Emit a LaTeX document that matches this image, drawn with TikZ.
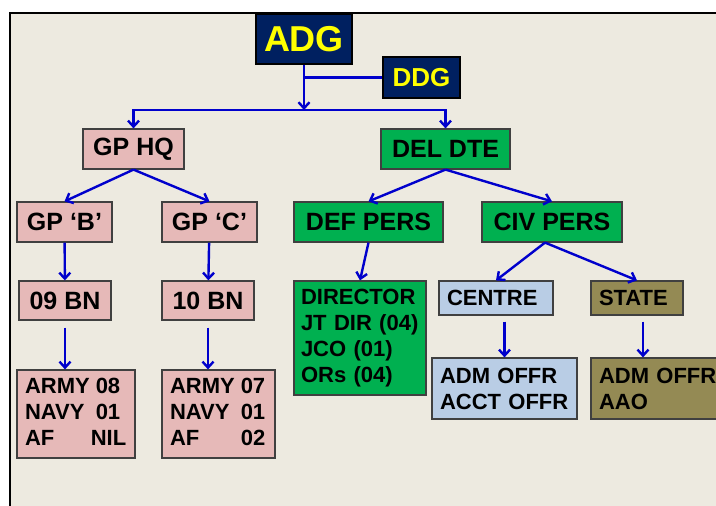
\documentclass[tikz,border=0pt]{standalone}
\usepackage{fontspec}
\setmainfont{Liberation Sans}
\usetikzlibrary{arrows.meta}
\definecolor{orgbg}{HTML}{EDEAE0}
\definecolor{orgnavy}{HTML}{002060}
\definecolor{orgyellow}{HTML}{FFFF00}
\definecolor{orgpink}{HTML}{E6B9B8}
\definecolor{orggreen}{HTML}{00B050}
\definecolor{orgblue}{HTML}{B9CDE5}
\definecolor{orgolive}{HTML}{948A54}
\definecolor{orgline}{HTML}{0000CC}
\definecolor{orgedge}{HTML}{404040}

\begin{document}
\begin{tikzpicture}[x=1pt,y=-1pt,>={Straight Barb[length=6pt,width=11pt]},
  orgbox/.style={draw=orgedge,line width=1.2pt,inner sep=0pt,font=\fontsize{25}{30}\selectfont\bfseries},
  headbox/.style={orgbox,fill=orgnavy,text=orgyellow,draw=black},
  pinkbox/.style={orgbox,fill=orgpink},
  greenbox/.style={orgbox,fill=orggreen},
  bluebox/.style={orgbox,fill=orgblue},
  olivebox/.style={orgbox,fill=orgolive},
  list/.style={inner xsep=8pt,inner ysep=0pt,align=left,font=\fontsize{22}{26}\selectfont\bfseries},
  arr/.style={->,draw=orgline,line width=2.4pt},
  link/.style={draw=orgline,line width=2.4pt}]
\useasboundingbox (0,0) rectangle (716,506);
\clip (0,0) rectangle (716,506);
\fill[white] (0,0) rectangle (716,506);
\draw[fill=orgbg,line width=2.5pt] (10,13) rectangle (760,560);

% top of the chart
\node[headbox,minimum width=96,minimum height=50,font=\fontsize{36}{40}\selectfont\bfseries] (adg) at (304,39) {ADG};
\node[headbox,minimum width=77,minimum height=41,font=\fontsize{26}{30}\selectfont\bfseries] (ddg) at (421.5,77.5) {DDG};
\coordinate (bus) at (304,110);
\draw[link] (ddg.west) -- (ddg.west -| adg.south);
\draw[arr] (adg) -- (bus);

\node[pinkbox,minimum width=101,minimum height=40] (gphq) at (133.5,149) {GP HQ};
\node[greenbox,minimum width=129,minimum height=40] (deldte) at (445.5,149) {DEL DTE};
\draw[arr] (bus) -| (gphq);
\draw[arr] (bus) -| (deldte);

% GP HQ side
\node[pinkbox,minimum width=95,minimum height=40] (gpb) at (64.5,222) {GP ‘B’};
\node[pinkbox,minimum width=95,minimum height=40] (gpc) at (209.5,222) {GP ‘C’};
\node[pinkbox,minimum width=92,minimum height=39] (bn09) at (65,300.5) {09 BN};
\node[pinkbox,minimum width=92,minimum height=39] (bn10) at (208,300.5) {10 BN};
\node[pinkbox,list,text width=102,minimum height=88] (army09) at (76,414)
  {\begin{tabular}{@{}l@{\hspace{6pt}}l@{}}ARMY&08\\NAVY&01\\AF&\hspace{-5pt}NIL\end{tabular}};
\node[pinkbox,list,text width=97,minimum height=88] (army10) at (218.5,414)
  {\begin{tabular}{@{}l@{\hspace{6pt}}l@{}}ARMY&07\\NAVY&01\\AF&02\end{tabular}};
\draw[arr] (gphq.south) -- (gpb.north);
\draw[arr] (gphq.south) -- (gpc.north);
\draw[arr] (gpb) -- (bn09);
\draw[arr] (gpc) -- (bn10);
\draw[arr,shorten <=7pt] (bn09.south) -- (bn09.south |- army09.north);
\draw[arr,shorten <=7pt] (bn10.south) -- (bn10.south |- army10.north);

% DEL DTE side
\node[greenbox,minimum width=149,minimum height=40] (defpers) at (368.5,222) {DEF PERS};
\node[greenbox,minimum width=140,minimum height=40] (civpers) at (552,222) {CIV PERS};
\node[greenbox,list,inner xsep=7pt,text width=118,minimum height=114] (director) at (360,338)
  {DIRECTOR\\JT DIR (04)\\JCO (01)\\ORs (04)};
\node[bluebox,list,text width=98,minimum height=34] (centre) at (496,298) {CENTRE};
\node[olivebox,list,text width=76,minimum height=34] (state) at (637,298) {STATE};
\node[bluebox,list,text width=129,minimum height=61] (centrestaff) at (504.5,388.5) {ADM OFFR\\ACCT OFFR};
\node[olivebox,list,text width=123,minimum height=61] (statestaff) at (660.5,388.5) {ADM OFFR\\AAO};
\draw[arr] (deldte.south) -- (defpers.north);
\draw[arr] (deldte.south) -- (civpers.north);
\draw[arr] (defpers.south) -- (director.north);
\draw[arr] ([xshift=-7pt]civpers.south) -- (centre.north);
\draw[arr] ([xshift=-7pt]civpers.south) -- (state.north);
\draw[arr,shorten <=6pt] (centrestaff.north |- centre.south) -- (centrestaff.north);
\draw[arr,shorten <=6pt] ([xshift=6pt]state.south) -- ([xshift=6pt]state.south |- statestaff.north);
\end{tikzpicture}
\end{document}
